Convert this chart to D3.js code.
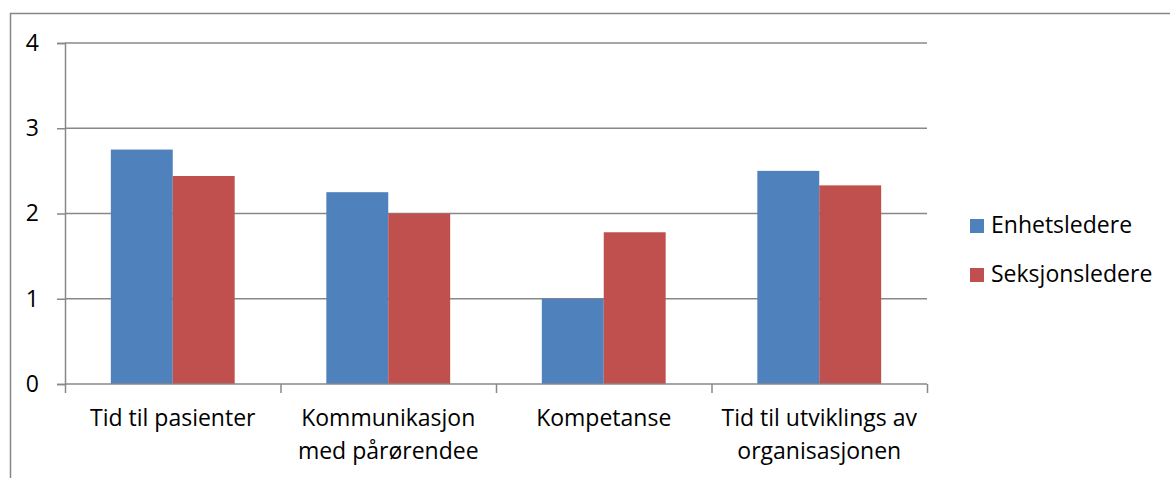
<!DOCTYPE html>
<html>
<head>
<meta charset="utf-8">
<script src="https://cdn.jsdelivr.net/npm/d3@7"></script>
<style>
  html, body { margin: 0; padding: 0; background: #fff; }
  svg { display: block; }
  text { font-family: "Open Sans", "Noto Sans", sans-serif; fill: #000; }
</style>
</head>
<body>
<svg id="chart" width="1170" height="478"></svg>
<script>
// Category labels (line-wrapped as they appear under the axis)
const categories = [
  ["Tid til pasienter"],
  ["Kommunikasjon", "med pårørendee"],
  ["Kompetanse"],
  ["Tid til utviklings av", "organisasjonen"]
];
const seriesNames = ["Enhetsledere", "Seksjonsledere"];
const enhetsledere = [2.75, 2.25, 1.0, 2.5];
const seksjonsledere = [2.44, 2.0, 1.78, 2.33];
const yTicks = [0, 1, 2, 3, 4];
const colors = ["#4F81BD", "#C0504D"];

const svg = d3.select("#chart");
const plot = { left: 65, right: 927, top: 43, bottom: 384 };

// Outer chart-area frame (runs past the right and bottom edges)
svg.append("rect")
  .attr("x", 10.5).attr("y", 13.5)
  .attr("width", 1200).attr("height", 600)
  .attr("fill", "none").attr("stroke", "#878787").attr("stroke-width", 1.5);

const x = d3.scaleBand()
  .domain(d3.range(categories.length))
  .range([plot.left, plot.right])
  .paddingInner(0).paddingOuter(0);

const inner = d3.scaleBand()
  .domain(d3.range(seriesNames.length))
  .range([0, x.bandwidth()])
  .paddingOuter(0.74).paddingInner(0);

const y = d3.scaleLinear().domain([0, 4]).range([plot.bottom, plot.top]);

// Horizontal gridlines
svg.append("g").selectAll("line").data(yTicks.filter(d => d > 0)).join("line")
  .attr("x1", plot.left).attr("x2", plot.right)
  .attr("y1", d => y(d)).attr("y2", d => y(d))
  .attr("stroke", "#888").attr("stroke-width", 1.5);

// Bars
const series = [enhetsledere, seksjonsledere];
series.forEach((vals, s) => {
  svg.append("g").selectAll("rect").data(vals).join("rect")
    .attr("x", (d, i) => x(i) + inner(s))
    .attr("width", inner.bandwidth())
    .attr("y", d => y(d))
    .attr("height", d => y(0) - y(d))
    .attr("fill", colors[s]);
});

// Y axis
const yAxis = d3.axisLeft(y).tickValues(yTicks).tickSize(8).tickPadding(18).tickFormat(d3.format("d"));
const gy = svg.append("g").attr("transform", `translate(${plot.left},0)`).call(yAxis);
gy.select(".domain").attr("stroke", "#888").attr("stroke-width", 1.5);
gy.selectAll(".tick line").attr("stroke", "#888").attr("stroke-width", 1.5);
gy.selectAll(".tick text").style("font-size", "23px").attr("fill", "#000");

// X axis with tick marks on category boundaries
const xb = d3.scaleLinear().domain([0, categories.length]).range([plot.left, plot.right]);
const xAxis = d3.axisBottom(xb).tickValues(d3.range(categories.length + 1)).tickSize(9).tickFormat("");
const gx = svg.append("g").attr("transform", `translate(0,${plot.bottom})`).call(xAxis);
gx.select(".domain").attr("stroke", "#888").attr("stroke-width", 1.5).attr("d", `M${plot.left},0H${plot.right}`);
gx.selectAll(".tick line").attr("stroke", "#888").attr("stroke-width", 1.5);

// Category labels
const lab = svg.append("g").selectAll("text").data(categories).join("text")
  .attr("text-anchor", "middle")
  .style("font-size", "23px");
lab.each(function(lines, i) {
  d3.select(this).selectAll("tspan").data(lines).join("tspan")
    .attr("x", x(i) + x.bandwidth() / 2)
    .attr("y", (d, j) => 426 + j * 33)
    .text(d => d);
});

// Legend
const leg = svg.append("g").selectAll("g").data(seriesNames).join("g")
  .attr("transform", (d, i) => `translate(970,${219 + i * 49})`);
leg.append("rect").attr("width", 14).attr("height", 14).attr("fill", (d, i) => colors[i]);
leg.append("text").attr("x", 21).attr("y", 14).style("font-size", "23px").text(d => d);
</script>
</body>
</html>
